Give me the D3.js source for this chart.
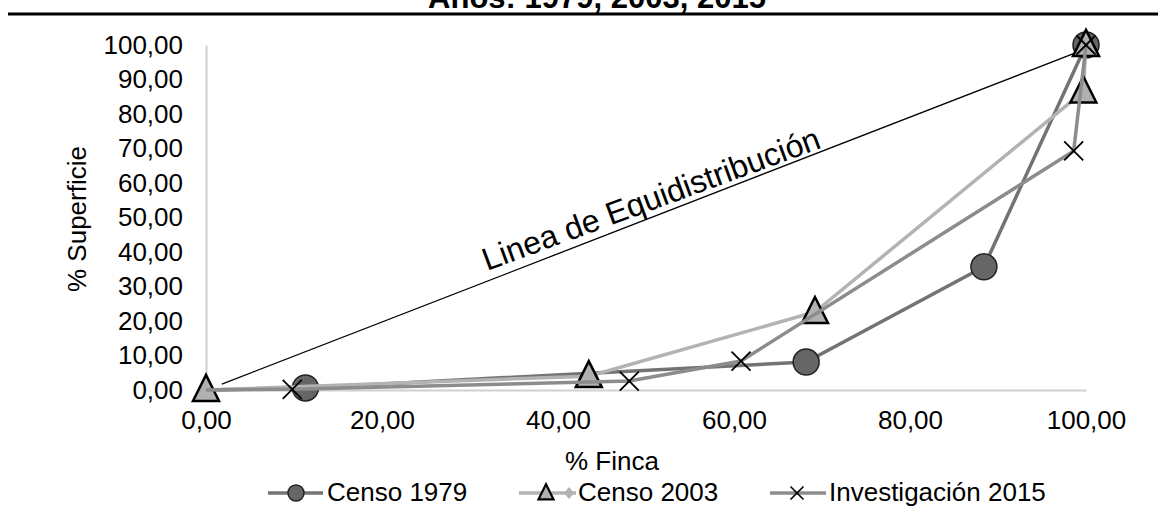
<!DOCTYPE html>
<html>
<head>
<meta charset="utf-8">
<script src="https://cdn.jsdelivr.net/npm/d3@7"></script>
<style>
  html, body { margin: 0; padding: 0; background: #fff; }
  svg { display: block; font-family: "Liberation Sans", Arial, sans-serif; }
</style>
</head>
<body>
<svg id="chart" width="1158" height="508"></svg>
<script>
// ---- data ----
const titleText = "Años: 1979, 2003, 2015";
const xTicks = [0, 20, 40, 60, 80, 100];
const yTicks = [0, 10, 20, 30, 40, 50, 60, 70, 80, 90, 100];
const censo1979X = [0, 11.3, 68.2, 88.4, 100];
const censo1979Y = [0, 0.6, 8.1, 35.7, 100];
const censo2003X = [0, 43.5, 69.2, 99.7, 100];
const censo2003Y = [0, 4.0, 22.6, 86.5, 100];
const inv2015X = [0, 9.8, 48.1, 60.8, 98.6, 100];
const inv2015Y = [0, 0.2, 2.6, 8.4, 69.3, 100];
const equiX = [1.8, 98.8];
const equiY = [1.7, 97.7];
const seriesNames = ["Censo 1979", "Censo 2003", "Investigación 2015"];

const fmt = d => d3.format(".2f")(d).replace(".", ",");

const svg = d3.select("#chart");
const x = d3.scaleLinear().domain([0, 100]).range([206, 1086]);
const y = d3.scaleLinear().domain([0, 100]).range([390, 45]);
const FS = 26;
const FF = "Liberation Sans, Arial, sans-serif";

// title (cut off at top, as in the source) and rule
svg.append("text").attr("x", 597).attr("y", 8).attr("text-anchor", "middle")
  .attr("font-size", 31).attr("font-weight", "bold").text(titleText);
svg.append("line").attr("x1", 8).attr("x2", 1158).attr("y1", 14).attr("y2", 14)
  .attr("stroke", "#000").attr("stroke-width", 3);

// axes
const xAxis = d3.axisBottom(x).tickValues(xTicks).tickFormat(fmt).tickSize(0).tickPadding(21);
const gx = svg.append("g").attr("transform", `translate(0,${y(0)})`).call(xAxis);
gx.select(".domain").attr("stroke", "#d0d0d0").attr("stroke-width", 2);
gx.selectAll("text").attr("font-size", FS).attr("font-family", FF).attr("fill", "#000");

const yAxis = d3.axisLeft(y).tickValues(yTicks).tickFormat(fmt).tickSize(0).tickPadding(23);
const gy = svg.append("g").attr("transform", `translate(${x(0)},0)`).call(yAxis);
gy.select(".domain").attr("stroke", "#d0d0d0").attr("stroke-width", 2);
gy.selectAll("text").attr("font-size", FS).attr("font-family", FF).attr("fill", "#000");

// axis titles
svg.append("text").attr("x", 612).attr("y", 470).attr("text-anchor", "middle")
  .attr("font-size", FS).text("% Finca");
svg.append("text").attr("transform", "translate(86,219) rotate(-90)").attr("text-anchor", "middle")
  .attr("font-size", FS).text("% Superficie");

// equidistribution line
svg.append("line").attr("x1", x(equiX[0])).attr("y1", y(equiY[0]))
  .attr("x2", x(equiX[1])).attr("y2", y(equiY[1])).attr("stroke", "#000").attr("stroke-width", 1.3);
const ang = Math.atan2(y(equiY[1]) - y(equiY[0]), x(equiX[1]) - x(equiX[0])) * 180 / Math.PI;
svg.append("text").attr("transform", `translate(487,271) rotate(${ang + 1})`)
  .attr("font-size", 32).attr("fill", "#000").text("Linea de Equidistribución");

const line = d3.line().x(d => x(d[0])).y(d => y(d[1]));
const zip = (a, b) => a.map((v, i) => [v, b[i]]);

const triPath = (s) => `M0,${-s*0.58}L${s/2},${s*0.42}L${-s/2},${s*0.42}Z`;
const crossPath = (s) => `M${-s/2},${-s/2}L${s/2},${s/2}M${s/2},${-s/2}L${-s/2},${s/2}`;

// series 1979 (no marker at origin)
const d79 = zip(censo1979X, censo1979Y);
svg.append("path").datum(d79).attr("d", line).attr("fill", "none").attr("stroke", "#737373").attr("stroke-width", 3.5);
svg.selectAll(".c79").data(d79.slice(1)).enter().append("circle")
  .attr("cx", d => x(d[0])).attr("cy", d => y(d[1])).attr("r", 13)
  .attr("fill", "#666666").attr("stroke", "#222").attr("stroke-width", 1.5);

// series 2003
const d03 = zip(censo2003X, censo2003Y);
svg.append("path").datum(d03).attr("d", line).attr("fill", "none").attr("stroke", "#b3b3b3").attr("stroke-width", 3.5);
svg.selectAll(".t03").data(d03).enter().append("path")
  .attr("transform", d => `translate(${x(d[0])},${y(d[1])})`).attr("d", triPath(26))
  .attr("fill", "#b0b0b0").attr("stroke", "#000").attr("stroke-width", 2.5).attr("stroke-linejoin", "miter");

// series 2015 (no marker at origin)
const d15 = zip(inv2015X, inv2015Y);
svg.append("path").datum(d15).attr("d", line).attr("fill", "none").attr("stroke", "#8c8c8c").attr("stroke-width", 3.5);
svg.selectAll(".x15").data(d15.slice(1)).enter().append("path")
  .attr("transform", d => `translate(${x(d[0])},${y(d[1])})`).attr("d", crossPath(19))
  .attr("fill", "none").attr("stroke", "#000").attr("stroke-width", 1.8);

// legend
const lg = svg.append("g").attr("font-size", FS);
const ly = 493;
// 1979
lg.append("line").attr("x1", 268).attr("x2", 323).attr("y1", ly).attr("y2", ly).attr("stroke", "#737373").attr("stroke-width", 3.5);
lg.append("circle").attr("cx", 296).attr("cy", ly).attr("r", 8).attr("fill", "#666").attr("stroke", "#222").attr("stroke-width", 1.5);
lg.append("text").attr("x", 327).attr("y", ly + 8).text(seriesNames[0]);
// 2003
lg.append("line").attr("x1", 519).attr("x2", 576).attr("y1", ly).attr("y2", ly).attr("stroke", "#b3b3b3").attr("stroke-width", 3.5);
lg.append("path").attr("transform", `translate(546,${ly})`).attr("d", triPath(15))
  .attr("fill", "#b0b0b0").attr("stroke", "#000").attr("stroke-width", 2.2);
lg.append("path").attr("transform", `translate(569,${ly})`).attr("d", "M0,-6L5,0L0,6L-5,0Z").attr("fill", "#b3b3b3");
lg.append("text").attr("x", 578).attr("y", ly + 8).text(seriesNames[1]);
// 2015
lg.append("line").attr("x1", 770).attr("x2", 826).attr("y1", ly).attr("y2", ly).attr("stroke", "#8c8c8c").attr("stroke-width", 3.5);
lg.append("path").attr("transform", `translate(797,${ly})`).attr("d", crossPath(13))
  .attr("fill", "none").attr("stroke", "#000").attr("stroke-width", 1.6);
lg.append("text").attr("x", 829).attr("y", ly + 8).text(seriesNames[2]);
</script>
</body>
</html>
